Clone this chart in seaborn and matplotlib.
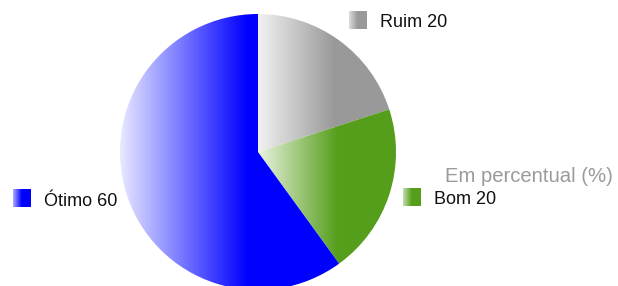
import numpy as np
import seaborn as sns
import matplotlib.pyplot as plt

sns.set_theme(style="white")
plt.rcParams['font.family'] = ['Liberation Sans', 'DejaVu Sans']

# data
labels = ["Ruim", "Bom", "Ótimo"]
values = [20, 20, 60]
light_colors = ["#f2f2f2", "#eaf3e0", "#e8e8ff"]
dark_colors = ["#999999", "#559e1b", "#0000ff"]
subtitle = "Em percentual (%)"

W, H = 618, 286
fig = plt.figure(figsize=(W / 100, H / 100), dpi=100)
ax = fig.add_axes([0, 0, 1, 1])


def gradient(ax, x0, x1, y0, y1, cmap, ramp=1.0, start=0.0, clip=None):
    # horizontal light -> dark ramp, solid after `ramp` share of the width
    g = np.clip(start + np.linspace(0, 1, 400) / ramp, 0, 1)[None, :]
    im = ax.imshow(g, extent=(x0, x1, y0, y1), cmap=cmap, vmin=0, vmax=1,
                   aspect='auto', interpolation='bilinear', origin='lower')
    if clip is not None:
        im.set_clip_path(clip)
    return im


wedges, _ = ax.pie(values, center=(258, H - 152), radius=138, startangle=90,
                   counterclock=False, frame=True,
                   wedgeprops=dict(facecolor='none', edgecolor='none'))

cmaps = [sns.blend_palette([lo, hi], as_cmap=True)
         for lo, hi in zip(light_colors, dark_colors)]

for w, cmap in zip(wedges, cmaps):
    ext = w.get_path().get_extents()
    gradient(ax, ext.x0, ext.x1, ext.y0, ext.y1, cmap, ramp=0.58, clip=w)

# labels with small gradient squares
spots = [(349, 11, 380, 27), (403, 188, 434, 204), (13, 189, 44, 206)]
for (sx, sy, tx, ty), lab, val, cmap in zip(spots, labels, values, cmaps):
    gradient(ax, sx, sx + 18, H - sy - 18, H - sy, cmap, ramp=0.65, start=0.25)
    ax.text(tx, H - ty, f"{lab} {val}", fontsize=13, color="#111111",
            ha='left', va='baseline')

ax.text(445, H - 182.5, subtitle, fontsize=14.6, color="#9a9a9a",
        ha='left', va='baseline')

ax.set_xlim(0, W)
ax.set_ylim(0, H)
ax.set_aspect('equal')
ax.axis('off')

fig.savefig("out.png", dpi=100, facecolor="white")
